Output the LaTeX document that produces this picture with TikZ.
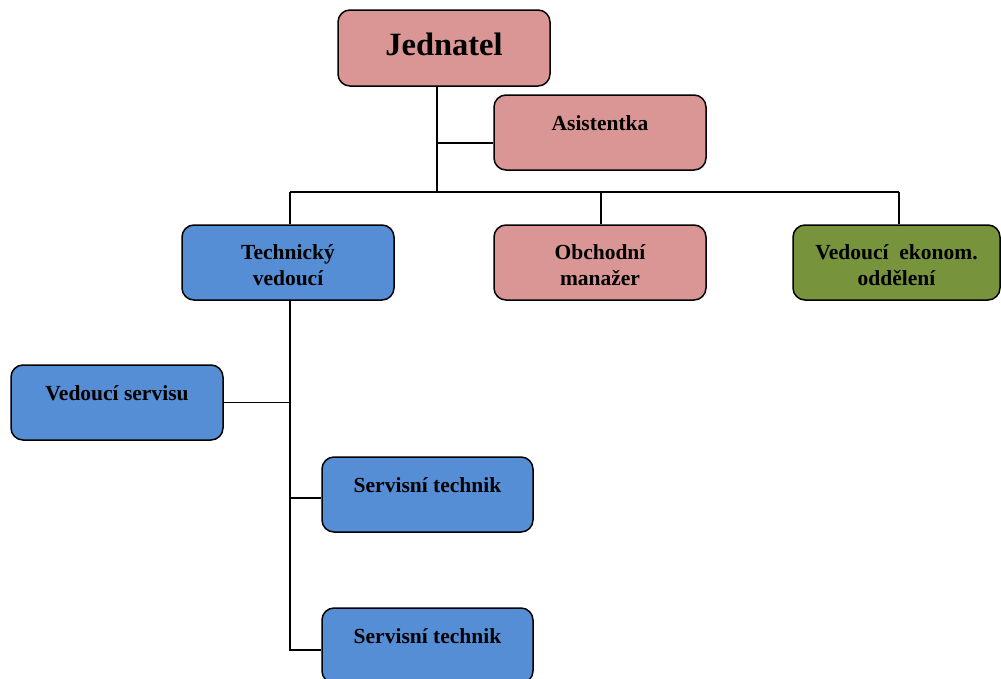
\documentclass[tikz,border=0pt]{standalone}
\usepackage{fontspec}
\setmainfont{Liberation Serif}
\definecolor{pinkf}{HTML}{D99694}
\definecolor{bluef}{HTML}{558ED5}
\definecolor{greenf}{HTML}{77933C}
\newcommand\lowr[2]{\raisebox{-#1}[\height][\depth]{#2}}
\begin{document}
\begin{tikzpicture}[x=1pt,y=-1pt,
  box/.style={draw=black,line width=1.5pt,rounded corners=12pt,minimum width=212pt,minimum height=75pt,inner sep=0pt,align=center,font=\fontsize{21.5}{24}\selectfont\bfseries},
  oneline/.style={text height=35pt,text depth=40pt},
  conn/.style={line width=1.8pt},
  busline/.style={line width=2.6pt}]
\useasboundingbox (0,0) rectangle (1001,678);
\clip (0,0) rectangle (1001,678);
\node[box,fill=pinkf,minimum height=76pt,text height=45pt,text depth=31pt,font=\fontsize{32.5}{38}\selectfont\bfseries] (jed) at (444,48) {Jednatel};
\node[box,oneline,fill=pinkf] (asi) at (600,132.5) {Asistentka};
\node[box,fill=bluef] (tv) at (288,262.5) {\lowr{2pt}{Technický}\\\lowr{4pt}{vedoucí}};
\node[box,fill=pinkf] (ob) at (600,262.5) {\lowr{2pt}{Obchodní}\\\lowr{4pt}{manažer}};
\node[box,fill=greenf,minimum width=207pt] (ek) at (896.5,262.5) {\lowr{2pt}{Vedoucí\ \ ekonom.}\\\lowr{4pt}{oddělení}};
\node[box,oneline,fill=bluef] (vs) at (117,402.5) {Vedoucí servisu};
\node[box,oneline,fill=bluef,minimum width=211pt] (st1) at (427.5,494.5) {Servisní technik};
\node[box,oneline,fill=bluef,minimum width=211pt] (st2) at (427.5,645.5) {Servisní technik};
\coordinate (j1) at (437,192);
% Jednatel to bus
\draw[conn] (jed.south -| j1) -- (j1);
\draw[conn] ([yshift=-10.5pt]asi.west) -- ([yshift=-10.5pt]asi.west -| j1);
% bus
\draw[busline] ([xshift=2pt]tv.north |- j1) -- ([xshift=2.5pt]ek.north |- j1);
\draw[conn] ([xshift=2pt]tv.north) -- ([xshift=2pt]tv.north |- j1);
\draw[conn] ([xshift=1pt]ob.north) -- ([xshift=1pt]ob.north |- j1);
\draw[conn] ([xshift=2.5pt]ek.north) -- ([xshift=2.5pt]ek.north |- j1);
% technical branch
\draw[conn] ([xshift=2pt]tv.south) -- ([xshift=2pt,yshift=-4.5pt]tv.south |- st2.west) -- ([yshift=-4.5pt]st2.west);
\draw[conn] (vs.east) -- ([xshift=2pt]vs.east -| tv.south);
\draw[conn] ([yshift=-3.5pt]st1.west) -- ([xshift=2pt,yshift=-3.5pt]st1.west -| tv.south);
\end{tikzpicture}
\end{document}
